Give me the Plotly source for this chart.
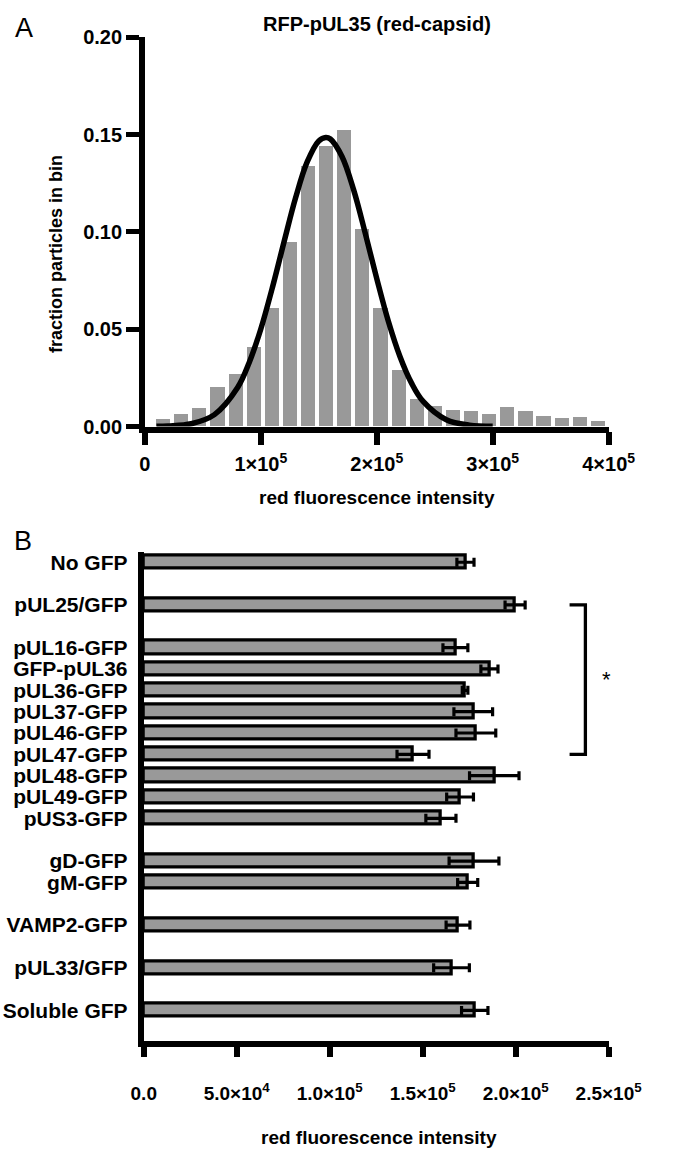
import plotly.graph_objects as go

W, H = 678, 1165
FONT = "Liberation Sans, Arial, Helvetica, sans-serif"

# ---------------- Panel A data (histogram + Gaussian fit) ----------------
bin_centers = [15625, 31250, 46875, 62500, 78125, 93750, 109375, 125000, 140625, 156250,
               171875, 187500, 203125, 218750, 234375, 250000, 265625, 281250, 296875, 312500,
               328125, 343750, 359375, 375000, 390625]
fractions = [0.0039, 0.0061, 0.0092, 0.0203, 0.0271, 0.0407, 0.0610, 0.0945, 0.1337, 0.1438,
             0.1520, 0.1015, 0.0608, 0.0288, 0.0139, 0.0102, 0.0085, 0.0081, 0.0064, 0.0097,
             0.0081, 0.0054, 0.0042, 0.0046, 0.0025]
fit_x = [10000, 20000, 40000, 60000, 80000, 90000, 100000, 110000, 120000, 130000, 140000,
         150000, 156000, 160000, 170000, 180000, 190000, 200000, 210000, 220000, 230000,
         240000, 260000, 280000, 300000]
fit_y = [0.0001, 0.0003, 0.0014, 0.0061, 0.0200, 0.0329, 0.0501, 0.0714, 0.0948, 0.1175, 0.1359,
         0.1467, 0.1485, 0.1477, 0.1387, 0.1217, 0.0995, 0.0760, 0.0541, 0.0360, 0.0223,
         0.0129, 0.0035, 0.0007, 0.0001]
a_xticks = [0, 100000, 200000, 300000, 400000]
a_xticklabels = ["0", "1×10<sup>5</sup>", "2×10<sup>5</sup>", "3×10<sup>5</sup>", "4×10<sup>5</sup>"]
a_yticks = [0, 0.05, 0.10, 0.15, 0.20]
a_yticklabels = ["0.00", "0.05", "0.10", "0.15", "0.20"]

# ---------------- Panel B data (mean ± SEM) ----------------
categories = ["No GFP", "pUL25/GFP", "pUL16-GFP", "GFP-pUL36", "pUL36-GFP", "pUL37-GFP",
              "pUL46-GFP", "pUL47-GFP", "pUL48-GFP", "pUL49-GFP", "pUS3-GFP", "gD-GFP",
              "gM-GFP", "VAMP2-GFP", "pUL33/GFP", "Soluble GFP"]
group_sizes = [1, 1, 9, 2, 1, 1, 1]
means = [173000, 199700, 167600, 185900, 172800, 177200, 178600, 144800, 188500, 170100,
         159800, 177600, 174200, 169000, 165500, 178000]
sems = [4600, 5400, 6700, 4600, 1500, 10400, 10700, 8600, 13300, 7200, 8100, 13400,
        5400, 6400, 9600, 7100]
b_xticks = [0, 50000, 100000, 150000, 200000, 250000]
b_xticklabels = ["0.0", "5.0×10<sup>4</sup>", "1.0×10<sup>5</sup>", "1.5×10<sup>5</sup>",
                 "2.0×10<sup>5</sup>", "2.5×10<sup>5</sup>"]
bracket_top, bracket_bottom = "pUL25/GFP", "pUL47-GFP"
bracket_x0, bracket_x1 = 229000, 237500
star_x = 249000

GRAY = "#999999"

# slot positions: consecutive within a group, one empty slot between groups
positions = []
p = 0
for n in group_sizes:
    for j in range(n):
        positions.append(p)
        p += 1
    p += 1
pos_of = dict(zip(categories, positions))


def px(x):
    return x / W


def py(y):
    return 1 - y / H


fig = go.Figure()

# Panel A
fig.add_trace(go.Bar(x=bin_centers, y=fractions, width=12200, marker=dict(color=GRAY, line=dict(width=0)),
                     xaxis="x", yaxis="y", showlegend=False))
fig.add_trace(go.Scatter(x=fit_x, y=fit_y, mode="lines", line=dict(color="black", width=5.5, shape="spline"),
                         xaxis="x", yaxis="y", showlegend=False, cliponaxis=True))

# Panel B
fig.add_trace(go.Bar(x=means, y=positions, orientation="h", width=0.62,
                     marker=dict(color=GRAY, line=dict(color="black", width=3.3)),
                     error_x=dict(type="data", array=sems, visible=True, color="black", thickness=3.2, width=4.5),
                     xaxis="x2", yaxis="y2", showlegend=False))
yb0, yb1 = pos_of[bracket_top], pos_of[bracket_bottom]
fig.add_trace(go.Scatter(x=[bracket_x0, bracket_x1, bracket_x1, bracket_x0], y=[yb0, yb0, yb1, yb1],
                         mode="lines", line=dict(color="black", width=3.3), xaxis="x2", yaxis="y2",
                         showlegend=False, cliponaxis=False))

tick_font_a = dict(family=FONT, size=20, color="black", weight="bold")
tick_font_b = dict(family=FONT, size=19, color="black", weight="bold")

fig.update_layout(
    width=W, height=H, margin=dict(l=0, r=0, t=0, b=0),
    paper_bgcolor="white", plot_bgcolor="white", bargap=0,
    xaxis=dict(domain=[px(141.7), px(640)], range=[0, 400000], tickvals=a_xticks, ticktext=a_xticklabels,
               showline=True, linewidth=5.5, linecolor="black", ticks="outside", ticklen=13, tickwidth=6,
               tickcolor="black", showgrid=False, zeroline=False, tickfont=tick_font_a,
               ticklabelstandoff=2, anchor="y", fixedrange=True),
    yaxis=dict(domain=[py(423.5), py(26.7)], range=[0, 0.2], tickvals=a_yticks, ticktext=a_yticklabels,
               showline=True, linewidth=5.5, linecolor="black", ticks="outside", ticklen=13, tickwidth=5,
               tickcolor="black", showgrid=False, zeroline=False, tickfont=tick_font_a,
               ticklabelstandoff=0, anchor="x", fixedrange=True),
    xaxis2=dict(domain=[px(140.5), px(640)], range=[0, 250000], tickvals=b_xticks, ticktext=b_xticklabels,
                showline=True, linewidth=6, linecolor="black", ticks="outside", ticklen=10, tickwidth=6,
                tickcolor="black", showgrid=False, zeroline=False, tickfont=tick_font_b,
                ticklabelstandoff=20, anchor="y2", fixedrange=True),
    yaxis2=dict(domain=[py(1050), py(551)], range=[22.44, -0.5], tickvals=positions, ticktext=categories,
                showline=True, linewidth=6, linecolor="black", ticks="", showgrid=False, zeroline=False,
                tickfont=dict(family=FONT, size=21, color="black", weight="bold"),
                ticklabelstandoff=6, anchor="x2", fixedrange=True),
)

ann = [
    dict(text="A", x=px(12), y=py(17), size=27, weight="normal"),
    dict(text="B", x=px(11), y=py(540), size=27, weight="normal"),
    dict(text="RFP-pUL35 (red-capsid)", x=px(391), y=py(13), size=20, weight="bold"),
    dict(text="red fluorescence intensity", x=px(391), y=py(496), size=19, weight="bold"),
    dict(text="red fluorescence intensity", x=px(393), y=py(1148), size=19, weight="bold"),
]
for a in ann:
    fig.add_annotation(text=a["text"], x=a["x"], y=a["y"], xref="paper", yref="paper",
                       xanchor="center", yanchor="middle", showarrow=False,
                       font=dict(family=FONT, size=a["size"], color="black", weight=a["weight"]))
fig.add_annotation(text="fraction particles in bin", x=px(47), y=py(248), xref="paper", yref="paper",
                   xanchor="center", yanchor="middle", showarrow=False, textangle=-90,
                   font=dict(family=FONT, size=18, color="black", weight="bold"))
fig.add_annotation(text="*", x=star_x, y=(yb0 + yb1) / 2, xref="x2", yref="y2",
                   xanchor="center", yanchor="middle", showarrow=False,
                   font=dict(family=FONT, size=22, color="black"))

fig.write_html("out.html", config={"displayModeBar": False},
               post_script="document.body.style.margin='0';document.body.style.overflow='hidden';")
